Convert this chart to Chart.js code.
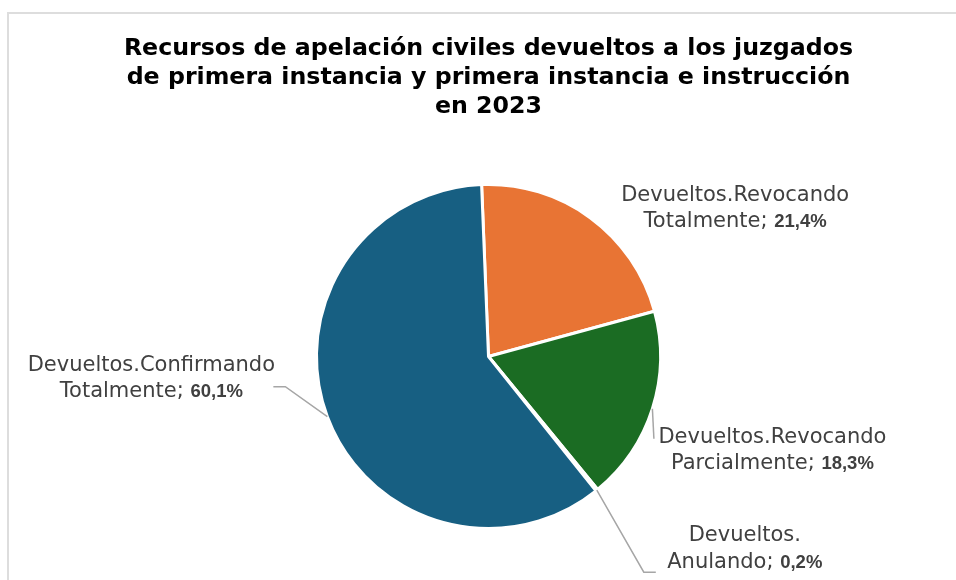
<!DOCTYPE html>
<html>
<head>
<meta charset="utf-8">
<script src="https://cdn.jsdelivr.net/npm/chart.js@4.4.0/dist/chart.umd.min.js"></script>
<style>
  html, body { margin: 0; padding: 0; background: #fff; overflow: hidden; }
  #frame { position: absolute; left: 7px; top: 12px; width: 1000px; height: 1000px; border: 2px solid #dddddd; }
  #wrap { position: absolute; left: 0; top: 0; width: 956px; height: 580px; }
</style>
</head>
<body>
<div id="frame"></div>
<div id="wrap"><canvas id="pie" width="956" height="580"></canvas></div>
<script>
const categories = [
  ['Devueltos.Revocando', 'Totalmente'],
  ['Devueltos.Revocando', 'Parcialmente'],
  ['Devueltos.', 'Anulando'],
  ['Devueltos.Confirmando', 'Totalmente']
];
const shares = [21.4, 18.3, 0.2, 60.1];
const sliceColors = ['#E87434', '#1B6C23', '#A5A5A5', '#175F82'];
const titleLines = [
  'Recursos de apelación civiles devueltos a los juzgados',
  'de primera instancia y primera instancia e instrucción',
  'en 2023'
];

// where each label sits, measured from the outer middle of its slice
const labelOffsets = [[145, -11], [120, 40], [148, 57], [-176, -40]];
const leaders = [null, [[1.5, 30]], [[47, 82], [59, 82]], [[-42, -30], [-54, -30]]];

const regularFont = '21px "DejaVu Sans"';
const boldFont = 'bold 18.5px "Liberation Sans"';
const lineGap = 26.5;

const sliceLabels = {
  id: 'sliceLabels',
  afterDatasetsDraw(chart) {
    const ctx = chart.ctx;
    const meta = chart.getDatasetMeta(0);
    meta.data.forEach((arc, i) => {
      const p = arc.getProps(['x', 'y', 'startAngle', 'endAngle', 'outerRadius'], true);
      const mid = (p.startAngle + p.endAngle) / 2;
      const ax = p.x + Math.cos(mid) * p.outerRadius;
      const ay = p.y + Math.sin(mid) * p.outerRadius;

      if (leaders[i]) {
        ctx.save();
        ctx.strokeStyle = '#A6A6A6';
        ctx.lineWidth = 1.5;
        ctx.beginPath();
        ctx.moveTo(ax, ay);
        leaders[i].forEach(([dx, dy]) => ctx.lineTo(ax + dx, ay + dy));
        ctx.stroke();
        ctx.restore();
      }

      const cx = ax + labelOffsets[i][0];
      const cy = ay + labelOffsets[i][1];
      const [l1, l2] = categories[i];
      const pct = shares[i].toFixed(1).replace('.', ',') + '%';

      ctx.save();
      ctx.fillStyle = '#404040';
      ctx.textBaseline = 'alphabetic';
      ctx.font = regularFont;
      ctx.textAlign = 'center';
      ctx.fillText(l1, cx, cy - lineGap / 2 + 7.5);

      const part = l2 + '; ';
      const w1 = ctx.measureText(part).width;
      ctx.font = boldFont;
      const w2 = ctx.measureText(pct).width;
      const x = cx - (w1 + w2) / 2;
      ctx.textAlign = 'left';
      ctx.font = regularFont;
      ctx.fillText(part, x, cy + lineGap / 2 + 7.5);
      ctx.font = boldFont;
      ctx.fillText(pct, x + w1, cy + lineGap / 2 + 7.5);
      ctx.restore();
    });
  }
};

new Chart(document.getElementById('pie'), {
  type: 'pie',
  data: {
    labels: categories,
    datasets: [{
      data: shares,
      backgroundColor: sliceColors,
      borderColor: '#ffffff',
      borderWidth: 3
    }]
  },
  options: {
    responsive: false,
    animation: false,
    rotation: -2.3,
    layout: { padding: { left: 21, right: 0, top: 0, bottom: 50 } },
    plugins: {
      legend: { display: false },
      tooltip: { enabled: false },
      title: {
        display: true,
        text: titleLines,
        color: '#000000',
        font: { family: 'DejaVu Sans', weight: 'bold', size: 23.7, lineHeight: 1.23 },
        padding: { top: 33.9, bottom: 61.6 }
      }
    }
  },
  plugins: [sliceLabels]
});
</script>
</body>
</html>
